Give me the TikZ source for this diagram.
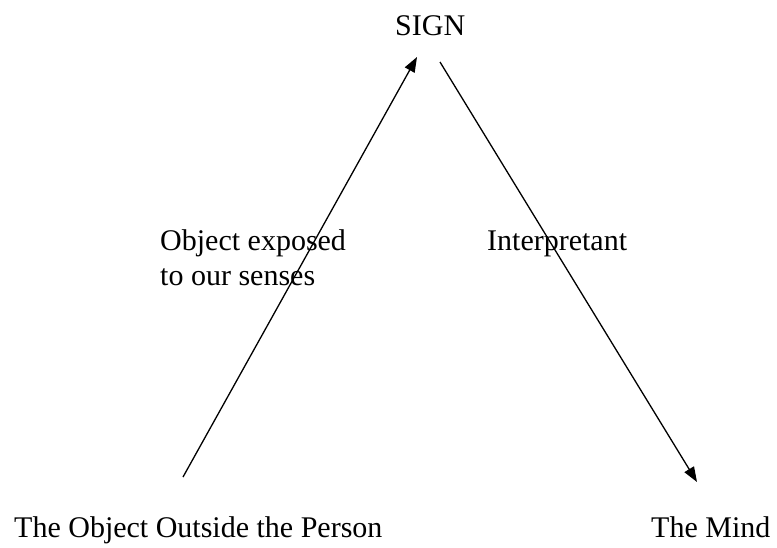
\documentclass[tikz,border=0pt]{standalone}
\usepackage{fontspec}
\setmainfont{Liberation Serif}
\usetikzlibrary{arrows.meta}
\begin{document}
\begin{tikzpicture}[x=1pt,y=-1pt,
  lbl/.style={anchor=base west,inner sep=0pt,font=\fontsize{30}{35}\selectfont},
  arr/.style={line width=1.3pt,-{Triangle[length=15pt,width=11pt]}}]
\useasboundingbox (0,0) rectangle (777,547);
\node[lbl] (sign) at (395,35) {SIGN};
\node[lbl] (obj) at (14,537) {The Object Outside the Person};
\node[lbl] (mind) at (651,537) {The Mind};
\node[lbl] (l1) at (160,250) {Object exposed};
\node[lbl] (l2) at (160,285) {to our senses};
\node[lbl] (l3) at (487,250) {Interpretant};
\coordinate (a1) at (183,477);
\coordinate (a2) at (417,57);
\coordinate (b1) at (440,62);
\coordinate (b2) at (697,482);
\draw[arr] (a1) -- (a2);
\draw[arr] (b1) -- (b2);
\end{tikzpicture}
\end{document}
